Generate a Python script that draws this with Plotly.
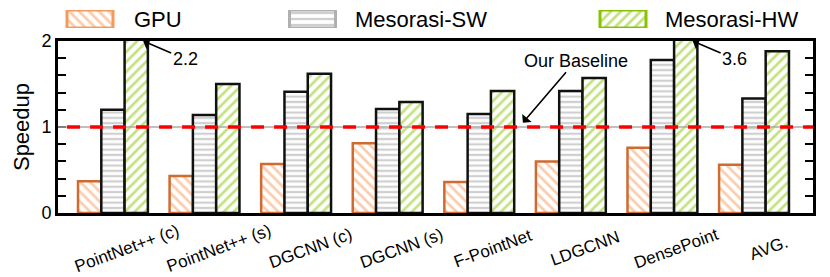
import plotly.graph_objects as go

categories = ["PointNet++ (c)", "PointNet++ (s)", "DGCNN (c)", "DGCNN (s)",
              "F-PointNet", "LDGCNN", "DensePoint", "AVG."]
gpu = [0.37, 0.43, 0.57, 0.81, 0.36, 0.60, 0.76, 0.56]
mesorasi_sw = [1.20, 1.14, 1.41, 1.21, 1.15, 1.42, 1.78, 1.33]
mesorasi_hw = [2.2, 1.50, 1.62, 1.29, 1.42, 1.57, 3.6, 1.88]
series_names = ["GPU", "Mesorasi-SW", "Mesorasi-HW"]
y_ticks = [0, 1, 2]
baseline = 1.0
y_max = 2.0

FONT = "Liberation Sans, Arial, sans-serif"
ORANGE = "#f59a5c"
ORANGE_EDGE = "#d06a30"
GRAY = "#a0a0a0"
GREEN = "#86c400"

W, H = 830, 277
ML, MR, MT, MB = 58, 17, 8, 64
plot_h = H - MT - MB
y_top_frac = (H - MB - 41) / plot_h

xpos = list(range(len(categories)))

styles = [
    dict(fg=ORANGE, shape="\\", edge=ORANGE_EDGE, size=7, sol=0.38),
    dict(fg=GRAY, shape="-", edge="#111111", size=5.3, sol=0.42),
    dict(fg=GREEN, shape="/", edge="#111111", size=7, sol=0.38),
]

fig = go.Figure()
for name, vals, st in zip(series_names, [gpu, mesorasi_sw, mesorasi_hw], styles):
    fig.add_trace(go.Bar(
        x=xpos, y=vals, name=name, showlegend=False,
        marker=dict(color="white",
                    line=dict(color=st["edge"], width=2.5),
                    pattern=dict(shape=st["shape"], fgcolor=st["fg"], bgcolor="white",
                                 size=st["size"], solidity=st["sol"], fillmode="overlay")),
        xaxis="x", yaxis="y",
    ))

# custom legend (swatches on an auxiliary axis mapped to pixel space)
legend_swatch_x = [90, 312.5, 623]
legend_text_x = [132, 353, 663]
legend_edges = [ORANGE, "#b0b0b0", GREEN]
for name, st, sx, ec in zip(series_names, styles, legend_swatch_x, legend_edges):
    fig.add_trace(go.Bar(
        x=[sx], y=[1], width=[46], base=[0], showlegend=False, hoverinfo="skip",
        marker=dict(color="white", line=dict(color=ec, width=3),
                    pattern=dict(shape=st["shape"], fgcolor=st["fg"], bgcolor="white",
                                 size=7 if st["shape"] != "-" else 6,
                                 solidity=0.4 if st["shape"] != "-" else 0.38)),
        xaxis="x3", yaxis="y3",
    ))
for name, tx in zip(series_names, legend_text_x):
    fig.add_annotation(x=tx, y=0.5, xref="x3", yref="y3", text=name, showarrow=False,
                       xanchor="left", yanchor="middle",
                       font=dict(family=FONT, size=22, color="black"))

x_range = [-0.60, 7.644]

fig.update_layout(
    width=W, height=H,
    margin=dict(l=ML, r=MR, t=MT, b=MB, autoexpand=False),
    paper_bgcolor="white", plot_bgcolor="white",
    barmode="group", bargap=0.237, bargroupgap=0,
    font=dict(family=FONT, size=18, color="black"),
    xaxis=dict(range=x_range, showticklabels=False, ticks="", showgrid=False,
               zeroline=False, showline=True, linecolor="black", linewidth=3,
               mirror=True, anchor="y", automargin=False),
    xaxis2=dict(range=x_range, overlaying="x", side="top", anchor="y",
                tickvals=[p + 0.145 for p in xpos], ticks="inside", ticklen=6,
                tickwidth=1.5, tickcolor="black", showticklabels=False,
                showgrid=False, zeroline=False, showline=False, automargin=False),
    yaxis=dict(range=[0, y_max], domain=[0, y_top_frac], tickvals=y_ticks,
               ticks="inside", ticklen=8, tickwidth=1.5, tickcolor="black",
               minor=dict(dtick=0.2, ticks="inside", ticklen=8, tickwidth=1.5,
                          tickcolor="black", showgrid=False),
               showgrid=False, zeroline=False, showline=True, linecolor="black",
               linewidth=3, mirror="ticks", anchor="x", automargin=False,
               tickfont=dict(size=18),
               title=dict(text="Speedup", font=dict(size=22), standoff=6)),
    xaxis3=dict(range=[ML, W - MR], domain=[0, 1], visible=False, anchor="y3",
                fixedrange=True, automargin=False),
    yaxis3=dict(range=[0, 1], domain=[(H - MB - 28) / plot_h, (H - MB - 10) / plot_h],
                visible=False, anchor="x3", fixedrange=True, automargin=False),
)

# baseline line
fig.add_shape(type="line", xref="paper", yref="y", x0=0, x1=1, y0=baseline, y1=baseline,
              line=dict(color="#aaaaaa", width=1.5), layer="above")
fig.add_shape(type="line", xref="paper", yref="y", x0=0.012, x1=1, y0=baseline, y1=baseline,
              line=dict(color="#ff0000", width=3.5, dash="13px,10px"), layer="above")

# category labels (rotated)
for p, c in zip(xpos, categories):
    fig.add_annotation(x=p, y=0, xref="x", yref="y", text=c, showarrow=False,
                       textangle=-20, xanchor="center", yanchor="middle",
                       xshift=14, yshift=-35, borderpad=0,
                       font=dict(family=FONT, size=17, color="black"))

# clipped-value annotations
for i, v in enumerate(mesorasi_hw):
    if v > y_max:
        fig.add_annotation(x=xpos[i] + 0.33, y=y_max, xref="x", yref="y",
                           text=f"{v}", showarrow=True, arrowhead=1, arrowsize=1.3,
                           arrowwidth=1.6, arrowcolor="black", ax=42, ay=18,
                           font=dict(family=FONT, size=18, color="black"))

fig.add_annotation(x=4.476, y=1.05, xref="x", yref="y", text="Our Baseline",
                   showarrow=True, arrowhead=1, arrowsize=1.3, arrowwidth=1.6,
                   arrowcolor="black", ax=53, ay=-62,
                   font=dict(family=FONT, size=18, color="black"))

fig.write_html("out.html", config={"displayModeBar": False},
               post_script="document.body.style.margin='0';document.body.style.padding='0';")
